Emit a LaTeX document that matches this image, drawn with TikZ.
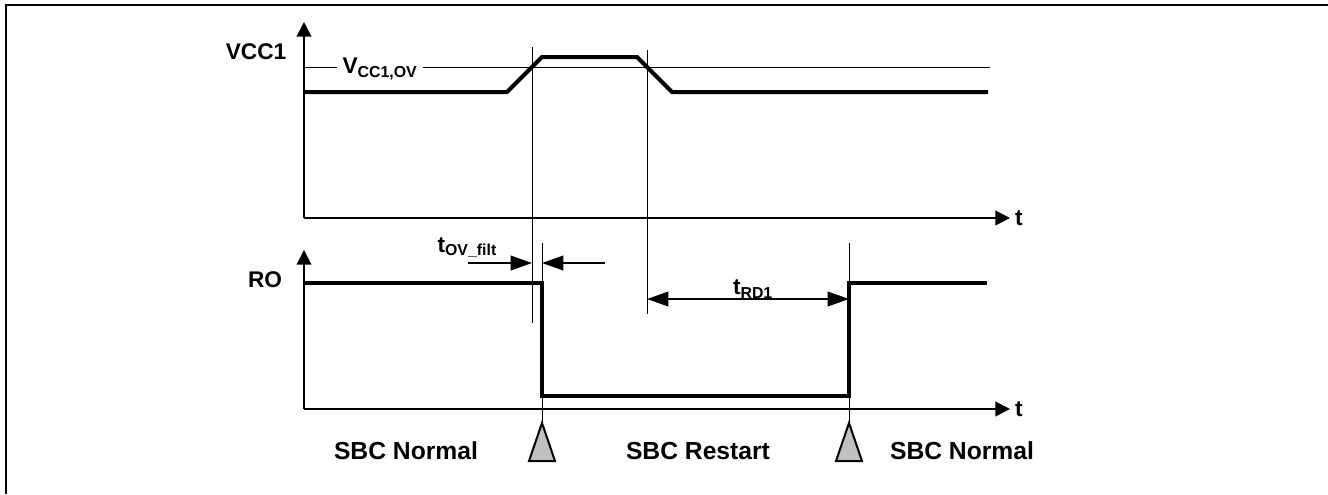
\documentclass[tikz,border=0pt]{standalone}
\usepackage{fontspec}
\setmainfont{Liberation Sans}
\usetikzlibrary{arrows.meta,positioning,calc}
\definecolor{cInk}{HTML}{000000}
\definecolor{cMark}{HTML}{C0C0C0}
\tikzset{
  >=Stealth,
  frm/.style   ={line width=1.5pt,cInk},
  ax/.style    ={-{Triangle[length=11pt,width=11pt]},line width=1.5pt,cInk},
  sig/.style   ={line width=3pt,cInk,line join=miter},
  guide/.style ={line width=0.6pt,cInk},
  dimr/.style  ={-{Triangle[length=16pt,width=11pt]},line width=1.2pt,cInk},
  dimb/.style  ={{Triangle[length=16pt,width=11pt]}-{Triangle[length=16pt,width=11pt]},line width=1.2pt,cInk},
  lbl/.style   ={font=\fontsize{17}{19}\selectfont\bfseries,inner sep=1pt,text=cInk},
  slbl/.style  ={font=\fontsize{18.5}{20}\selectfont\bfseries,inner sep=1pt,text=cInk},
  trig/.style  ={line width=1.5pt,draw=cInk,fill=cMark,line join=miter},
}

\begin{document}
\begin{tikzpicture}[x=0.75pt,y=-0.75pt]
\useasboundingbox (0,0) rectangle (1328,494);
% frame
\draw[frm] (6,494) -- (6,5) -- (1328,5);

% VCC1 panel
\coordinate (o1) at (304,218);
\draw[ax] (o1) -- (304,22);
\draw[ax] (o1) -- (1010,218) node[lbl,anchor=west,inner sep=3pt] (t1) {t};
\node[lbl] (vcc) at (256,52) {VCC1};
\draw[guide] (304,67) -- (990,67);
\node[lbl,fill=white,inner sep=4pt] (vov) at (380,69) {V\textsubscript{CC1,OV}};
\draw[sig] (304,92) -- (507,92) -- (542,57) -- (637,57) -- (672,92) -- (988,92);

% time marks
\coordinate (ov) at (532,67);
\coordinate (uv) at (647,67);
\coordinate (fall) at (542,283);
\coordinate (rise) at (849,283);
\draw[guide] (532,47) -- (532,323);
\draw[guide] (647,50) -- (647,314);
\draw[guide] (542,243) -- (542,423);
\draw[guide] (849,243) -- (849,423);

% RO panel
\coordinate (o2) at (304,409);
\draw[ax] (o2) -- (304,250);
\draw[ax] (o2) -- (1010,409) node[lbl,anchor=west,inner sep=3pt] (t2) {t};
\node[lbl] (ro) at (265,280) {RO};
\draw[sig] (304,283) -- (fall) -- (542,396) -- (849,396) -- (rise) -- (987,283);

% filter time and restart delay
\draw[dimr] (468,263) -- (532,263);
\draw[dimr] (605,263) -- (542,263);
\node[lbl,anchor=base west] (tov) at (436,252) {t\textsubscript{OV\_filt}};
\draw[dimb] (647,299) -- (849,299);
\node[lbl] (trd) at (753,289) {t\textsubscript{RD1}};

% SBC states
\draw[trig] (529,461) -- (542,423) -- (555,461) -- cycle;
\draw[trig] (836,461) -- (849,423) -- (862,461) -- cycle;
\node[slbl] (n1) at (406,451) {SBC Normal};
\node[slbl] (rs) at (698,451) {SBC Restart};
\node[slbl] (n2) at (962,451) {SBC Normal};
\end{tikzpicture}
\end{document}
